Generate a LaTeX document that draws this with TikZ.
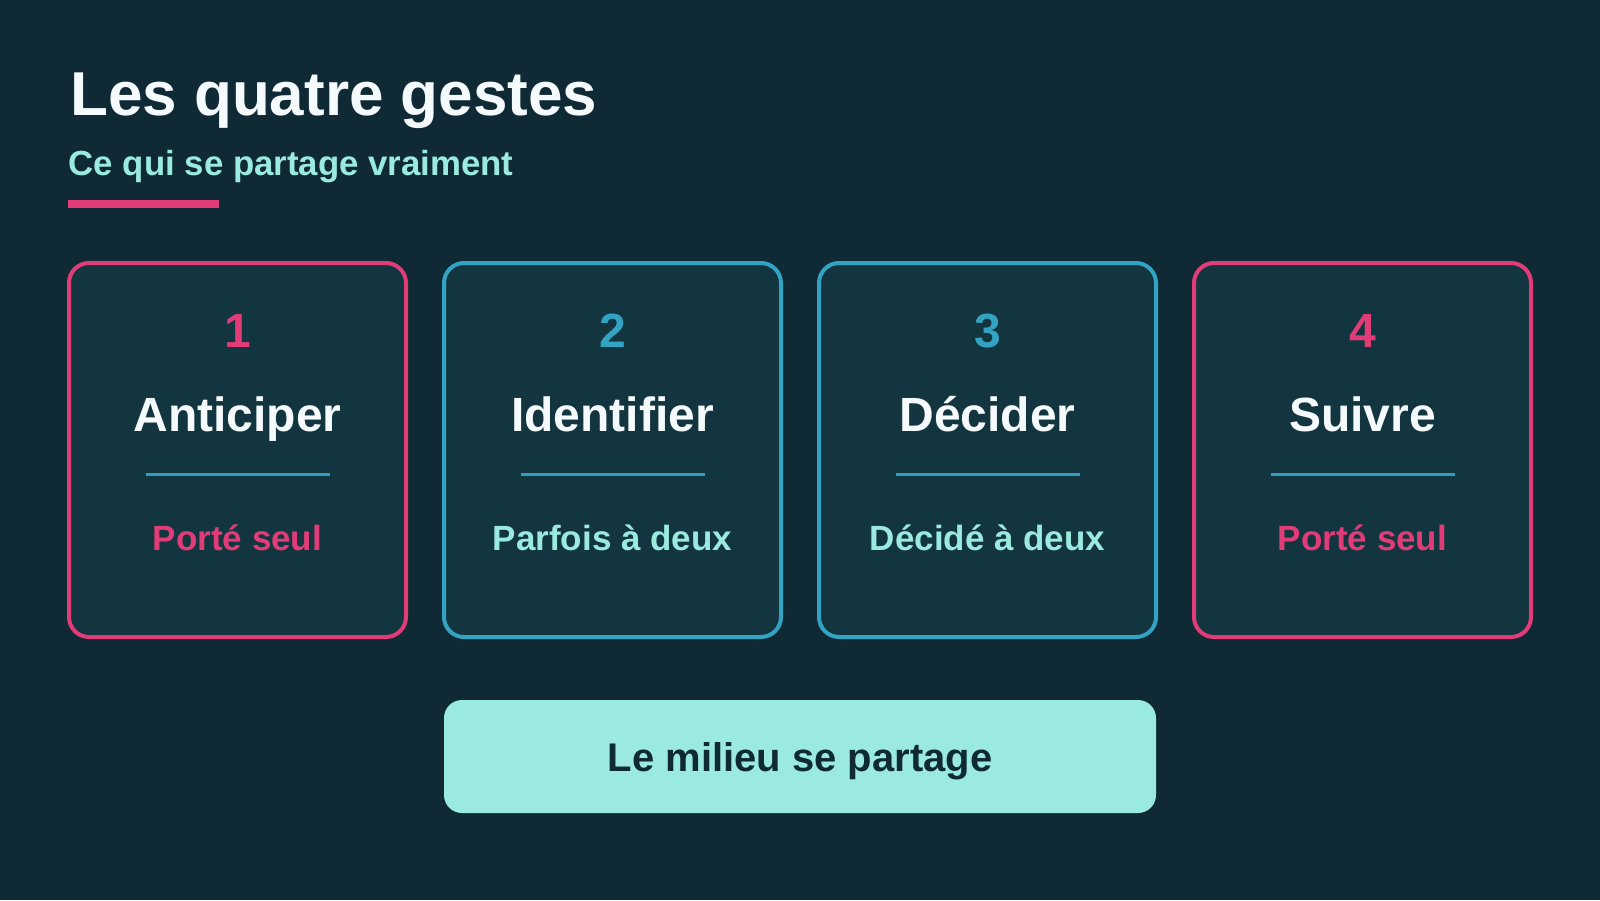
\documentclass[tikz,border=0pt]{standalone}
\usepackage{fontspec}
\setmainfont{Liberation Sans}
\definecolor{bg}{HTML}{0F2A35}
\definecolor{cardfill}{HTML}{133540}
\definecolor{pinkc}{HTML}{E23C78}
\definecolor{bluec}{HTML}{33A3C3}
\definecolor{mint}{HTML}{9BEADF}
\definecolor{divc}{HTML}{2E9EBE}
\definecolor{whitec}{HTML}{F5FAFC}
\definecolor{darktext}{HTML}{0F2A35}
\tikzset{
  cardbox/.style={draw, line width=4pt, rounded corners=20pt, fill=cardfill,
    minimum width=337pt, minimum height=374pt, inner sep=0pt},
  numtext/.style={anchor=base, inner sep=0pt, font=\fontsize{48}{56}\selectfont\bfseries},
  headtext/.style={anchor=base, inner sep=0pt, text=whitec, font=\fontsize{48}{56}\selectfont\bfseries},
  subtext/.style={anchor=base, inner sep=0pt, font=\fontsize{35}{40}\selectfont\bfseries},
  divline/.style={draw=divc, line width=3pt},
}
\begin{document}
\begin{tikzpicture}[x=1pt,y=-1pt]
\fill[bg] (0,0) rectangle (1600,900);
\useasboundingbox (0,0) rectangle (1600,900);
\node[anchor=base west, inner sep=0pt, text=whitec, font=\fontsize{62}{74}\selectfont\bfseries] (title) at (70,115) {Les quatre gestes};
\node[anchor=base west, inner sep=0pt, text=mint, font=\fontsize{34.8}{40}\selectfont\bfseries] (subtitle) at (68.5,175) {Ce qui se partage vraiment};
\fill[pinkc] (68,200) rectangle (219,207.5);
\foreach \i/\x/\col/\head/\sub/\subcol in {
  1/237.5/pinkc/Anticiper/Porté seul/pinkc,
  2/612.5/bluec/Identifier/Parfois à deux/mint,
  3/987.5/bluec/Décider/Décidé à deux/mint,
  4/1362.5/pinkc/Suivre/Porté seul/pinkc}{
  \node[cardbox, draw=\col] (c\i) at (\x,450) {};
  \node[numtext, text=\col] (n\i) at (\x,347) {\i};
  \node[headtext] (h\i) at (\x,431) {\head};
  \draw[divline] (\x-92,474) -- (\x+92,474);
  \node[subtext, text=\subcol] (s\i) at (\x,550) {\sub};
}
\node[fill=mint, rounded corners=18pt, minimum width=712pt, minimum height=113pt, inner sep=0pt,
  text depth=0pt, text=darktext, font=\fontsize{40}{48}\selectfont\bfseries] (mid) at (800,756.5) {Le milieu se partage};
\end{tikzpicture}
\end{document}
